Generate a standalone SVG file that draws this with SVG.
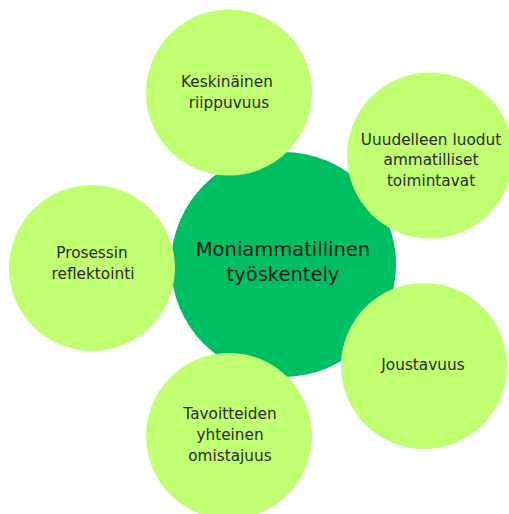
<svg xmlns="http://www.w3.org/2000/svg" width="509" height="514" viewBox="0 0 509 514">
  <style>
    .hub { fill: #00bf63; }
    .leaf { fill: #c1ff72; }
    .t { font-family: "DejaVu Sans", "Liberation Sans", sans-serif; font-size: 15.3px; fill: #2a2a2a; text-anchor: middle; }
    .big { font-size: 19.5px; fill: #1c1c1c; }
  </style>
  <rect width="509" height="514" fill="#ffffff"/>
  <g id="node-center">
    <circle class="hub" cx="283.5" cy="264.5" r="112.5"/>
    <text class="t big" x="283" y="256">Moniammatillinen</text>
    <text class="t big" x="283" y="281">työskentely</text>
  </g>
  <g id="node-keskinainen">
    <circle class="leaf" cx="229" cy="92.5" r="83"/>
    <text class="t" x="227" y="87">Keskinäinen</text>
    <text class="t" x="229" y="108">riippuvuus</text>
  </g>
  <g id="node-uudelleen">
    <circle class="leaf" cx="430" cy="155.5" r="83"/>
    <text class="t" x="431" y="145">Uuudelleen luodut</text>
    <text class="t" x="431" y="165">ammatilliset</text>
    <text class="t" x="431" y="186">toimintavat</text>
  </g>
  <g id="node-prosessin">
    <circle class="leaf" cx="92" cy="268" r="83"/>
    <text class="t" x="92" y="258">Prosessin</text>
    <text class="t" x="93" y="279">reflektointi</text>
  </g>
  <g id="node-joustavuus">
    <circle class="leaf" cx="424" cy="366" r="83"/>
    <text class="t" x="423" y="370">Joustavuus</text>
  </g>
  <g id="node-tavoitteiden">
    <circle class="leaf" cx="229" cy="436" r="83"/>
    <text class="t" x="230" y="419">Tavoitteiden</text>
    <text class="t" x="230" y="440">yhteinen</text>
    <text class="t" x="230" y="461">omistajuus</text>
  </g>
</svg>
